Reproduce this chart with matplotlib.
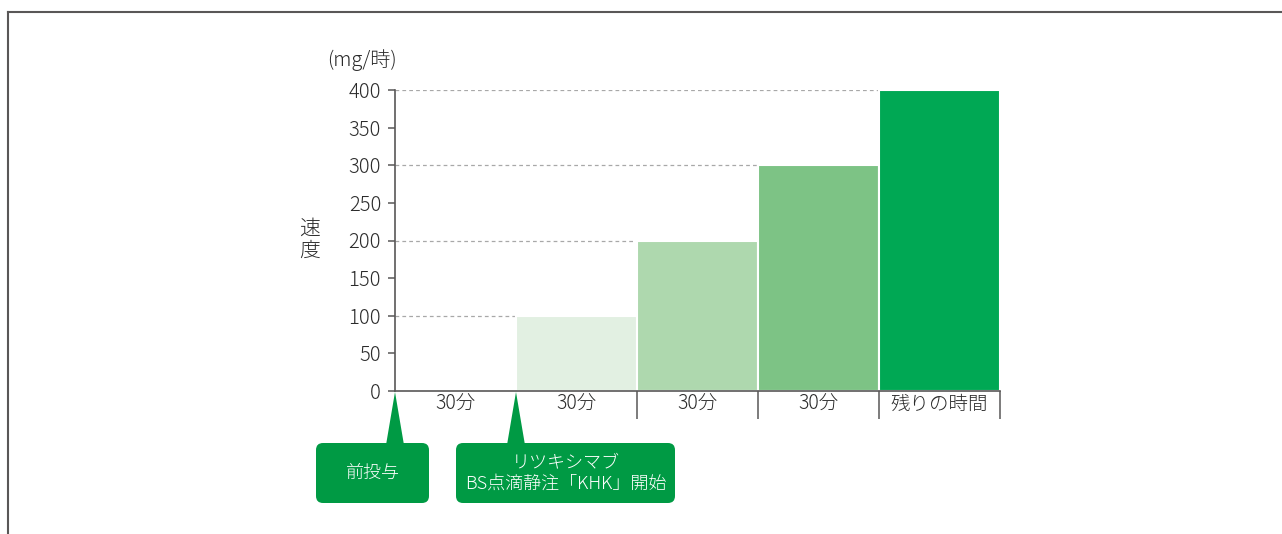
import matplotlib
matplotlib.use("Agg")
import matplotlib.pyplot as plt
from matplotlib.patches import FancyBboxPatch, Polygon
from matplotlib.lines import Line2D
from matplotlib.transforms import IdentityTransform

plt.rcParams['font.family'] = ['Noto Sans CJK JP', 'DejaVu Sans']
plt.rcParams['font.weight'] = 'light'

# ---- data ----
segment_labels = ["30分", "30分", "30分", "30分", "残りの時間"]
rates = [0, 100, 200, 300, 400]
y_ticks = [0, 50, 100, 150, 200, 250, 300, 350, 400]
y_label = "速\n度"
unit_label = "(mg/時)"
callout_texts = ["前投与", "リツキシマブ\nBS点滴静注「KHK」開始"]
callout_positions = [0, 1]   # segment boundary where each callout points

# ---- style ----
bar_colors = ["#ffffff", "#e2f0e2", "#aed8ae", "#7dc385", "#00a854"]
axis_color = "#595757"
text_color = "#2b2b2b"
callout_color = "#009a44"
W, H = 1282, 534

fig = plt.figure(figsize=(W / 100, H / 100), dpi=100)
ax_left, ax_right, ax_bottom, ax_top = 395, 1000, 391, 90
ax = fig.add_axes([ax_left / W, 1 - ax_bottom / H,
                   (ax_right - ax_left) / W, (ax_bottom - ax_top) / H])

n = len(rates)
ax.set_xlim(0, n)
ax.set_ylim(0, 400)

# dashed guides from y-axis to each bar
for i, r in enumerate(rates):
    if r > 0 and r % 100 == 0:
        ax.hlines(r, 0, i, colors="#a8a8a8", linewidth=0.9,
                  linestyles=(0, (3, 2.5)), zorder=1)

# bars
for i, r in enumerate(rates):
    if r > 0:
        ax.bar(i, r, width=1, align="edge", color=bar_colors[i],
               edgecolor="white", linewidth=1.5, zorder=2)

# spines
for s in ["top", "right"]:
    ax.spines[s].set_visible(False)
for s in ["left", "bottom"]:
    ax.spines[s].set_color(axis_color)
    ax.spines[s].set_linewidth(1.2)
    ax.spines[s].set_zorder(3)

ax.set_yticks(y_ticks)
ax.set_yticklabels([str(v) for v in y_ticks], fontsize=14.5, color=text_color)
ax.tick_params(axis="y", length=5, width=1.1, color=axis_color, pad=5)

ax.set_xticks([i + 0.5 for i in range(n)])
ax.set_xticklabels(segment_labels, fontsize=14, color=text_color)
ax.tick_params(axis="x", which="major", length=0, pad=2)
ax.set_xticks(list(range(2, n + 1)), minor=True)
ax.tick_params(axis="x", which="minor", length=20, width=1.1,
               color=axis_color, direction="out")

# labels
fig.text(310 / W, 1 - 240 / H, y_label, fontsize=15, ha="center",
         va="center", linespacing=1.0, color=text_color)
fig.text(362 / W, 1 - 60 / H, unit_label, fontsize=14.5, ha="center",
         va="center", color=text_color)

# callouts (in pixel coords)
fig.canvas.draw()
boxes = [(316, 429), (456, 675)]
box_top, box_bot = 443, 503
ident = IdentityTransform()
for (x0, x1), txt, pos in zip(boxes, callout_texts, callout_positions):
    ax_px = ax.transData.transform((pos, 0))
    apex_x, apex_y = ax_px[0], ax_px[1] - 1
    tri = Polygon([(apex_x, apex_y), (apex_x - 9, H - box_top - 2),
                   (apex_x + 9, H - box_top - 2)], closed=True,
                  facecolor=callout_color, edgecolor="none",
                  transform=ident, figure=fig)
    fig.patches.append(tri)
    box = FancyBboxPatch((x0 + 6, H - box_bot + 6), (x1 - x0) - 12,
                         (box_bot - box_top) - 12,
                         boxstyle="round,pad=6,rounding_size=7",
                         facecolor=callout_color, edgecolor="none",
                         transform=ident, figure=fig)
    fig.patches.append(box)
    fig.text(((x0 + x1) / 2) / W, 1 - ((box_top + box_bot) / 2) / H, txt,
             fontsize=13, ha="center", va="center", color="white",
             linespacing=1.2)

# frame lines (top and left)
fig.lines.append(Line2D([8 / W, 1], [1 - 12 / H, 1 - 12 / H],
                        transform=fig.transFigure, color=axis_color,
                        linewidth=1.5))
fig.lines.append(Line2D([8 / W, 8 / W], [1 - 12 / H, 0],
                        transform=fig.transFigure, color=axis_color,
                        linewidth=1.5))

fig.savefig("out.png", dpi=100)
